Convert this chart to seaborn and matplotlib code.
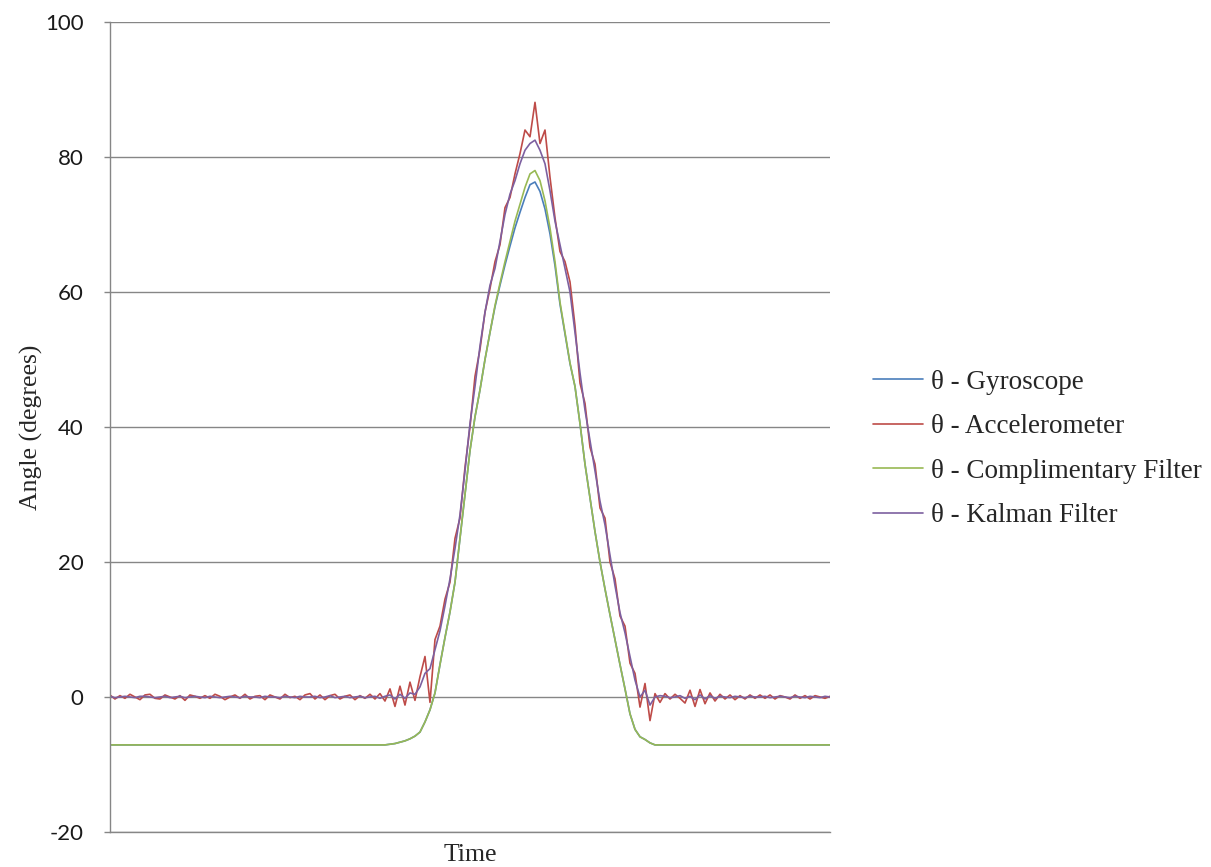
import matplotlib
matplotlib.use("Agg")
import matplotlib.pyplot as plt
import seaborn as sns
import numpy as np
import pandas as pd

# Sample index (one reading every ~5 px of the original plot width)
sample = np.arange(145)

gyroscope = [
    -7.1, -7.1, -7.1, -7.1, -7.1, -7.1, -7.1, -7.1, -7.1, -7.1,
    -7.1, -7.1, -7.1, -7.1, -7.1, -7.1, -7.1, -7.1, -7.1, -7.1,
    -7.1, -7.1, -7.1, -7.1, -7.1, -7.1, -7.1, -7.1, -7.1, -7.1,
    -7.1, -7.1, -7.1, -7.1, -7.1, -7.1, -7.1, -7.1, -7.1, -7.1,
    -7.1, -7.1, -7.1, -7.1, -7.1, -7.1, -7.1, -7.1, -7.1, -7.1,
    -7.1, -7.1, -7.1, -7.1, -7.1, -7.1, -7.0, -6.9, -6.7, -6.5,
    -6.2, -5.8, -5.2, -3.7, -1.9, 0.6, 4.8, 8.8, 12.6, 17.0,
    23.5, 30.0, 36.5, 41.5, 45.5, 50.0, 54.0, 57.8, 61.0, 64.0,
    66.8, 69.5, 71.8, 74.0, 75.9, 76.3, 74.9, 72.3, 68.6, 63.9,
    58.2, 53.8, 49.4, 46.0, 40.5, 34.5, 29.5, 24.5, 20.0, 16.0,
    12.2, 8.5, 4.8, 1.2, -2.5, -4.8, -5.9, -6.3, -6.8, -7.1,
    -7.1, -7.1, -7.1, -7.1, -7.1, -7.1, -7.1, -7.1, -7.1, -7.1,
    -7.1, -7.1, -7.1, -7.1, -7.1, -7.1, -7.1, -7.1, -7.1, -7.1,
    -7.1, -7.1, -7.1, -7.1, -7.1, -7.1, -7.1, -7.1, -7.1, -7.1,
    -7.1, -7.1, -7.1, -7.1, -7.1,
]

accelerometer = [
    0.3, -0.3, 0.2, -0.2, 0.4, 0.0, -0.4, 0.3, 0.4, -0.2,
    -0.3, 0.3, 0.0, -0.3, 0.2, -0.5, 0.3, 0.1, -0.2, 0.2,
    -0.2, 0.4, 0.1, -0.4, 0.0, 0.3, -0.2, 0.4, -0.3, 0.1,
    0.2, -0.4, 0.3, 0.0, -0.3, 0.4, -0.1, 0.1, -0.4, 0.3,
    0.5, -0.3, 0.3, -0.4, 0.2, 0.4, -0.3, 0.1, 0.3, -0.4,
    0.2, -0.2, 0.4, -0.3, 0.5, -0.6, 1.2, -1.4, 1.6, -1.2,
    2.2, -0.5, 3.0, 6.0, -0.8, 8.5, 10.5, 14.5, 17.0, 23.5,
    26.5, 34.0, 40.0, 47.5, 51.5, 57.0, 60.5, 64.5, 67.0, 72.5,
    74.0, 77.5, 80.5, 84.0, 83.0, 88.1, 82.0, 84.0, 77.0, 71.0,
    66.0, 64.5, 61.5, 55.0, 46.5, 43.5, 37.0, 34.5, 28.0, 26.5,
    20.0, 17.5, 12.0, 10.5, 5.0, 3.5, -1.5, 2.0, -3.5, 0.5,
    -0.8, 0.5, -0.3, 0.4, -0.2, -0.9, 1.0, -1.4, 1.1, -1.0,
    0.6, -0.6, 0.4, -0.3, 0.3, -0.4, 0.2, -0.3, 0.3, -0.2,
    0.3, -0.2, 0.3, -0.3, 0.2, 0.0, -0.3, 0.3, -0.2, 0.2,
    -0.3, 0.2, 0.0, -0.2, 0.1,
]

complementary = [
    -7.1, -7.1, -7.1, -7.1, -7.1, -7.1, -7.1, -7.1, -7.1, -7.1,
    -7.1, -7.1, -7.1, -7.1, -7.1, -7.1, -7.1, -7.1, -7.1, -7.1,
    -7.1, -7.1, -7.1, -7.1, -7.1, -7.1, -7.1, -7.1, -7.1, -7.1,
    -7.1, -7.1, -7.1, -7.1, -7.1, -7.1, -7.1, -7.1, -7.1, -7.1,
    -7.1, -7.1, -7.1, -7.1, -7.1, -7.1, -7.1, -7.1, -7.1, -7.1,
    -7.1, -7.1, -7.1, -7.1, -7.1, -7.1, -7.0, -6.9, -6.7, -6.5,
    -6.2, -5.8, -5.2, -3.7, -1.9, 0.6, 4.8, 8.8, 12.6, 17.0,
    23.5, 30.0, 36.5, 41.5, 45.5, 50.0, 54.0, 58.0, 61.3, 64.5,
    67.5, 70.5, 73.0, 75.5, 77.5, 78.0, 76.5, 73.5, 69.5, 64.5,
    58.5, 54.0, 49.5, 46.0, 40.5, 34.5, 29.5, 24.5, 20.0, 16.0,
    12.2, 8.5, 4.8, 1.2, -2.5, -4.8, -5.9, -6.3, -6.8, -7.1,
    -7.1, -7.1, -7.1, -7.1, -7.1, -7.1, -7.1, -7.1, -7.1, -7.1,
    -7.1, -7.1, -7.1, -7.1, -7.1, -7.1, -7.1, -7.1, -7.1, -7.1,
    -7.1, -7.1, -7.1, -7.1, -7.1, -7.1, -7.1, -7.1, -7.1, -7.1,
    -7.1, -7.1, -7.1, -7.1, -7.1,
]

kalman = [
    0.1, -0.1, 0.0, 0.1, 0.0, -0.1, 0.1, 0.1, 0.0, -0.1,
    0.0, 0.1, -0.1, 0.0, 0.1, -0.1, 0.0, 0.1, 0.0, -0.1,
    0.1, 0.0, -0.1, 0.0, 0.1, 0.0, -0.1, 0.1, 0.0, 0.0,
    -0.1, 0.1, 0.0, 0.0, -0.1, 0.1, 0.0, -0.1, 0.1, 0.0,
    0.0, 0.1, -0.1, 0.0, 0.2, -0.1, 0.0, 0.1, -0.1, 0.0,
    0.1, -0.1, 0.0, 0.1, -0.2, 0.1, 0.3, -0.3, 0.4, -0.2,
    0.6, 0.4, 1.5, 3.5, 4.2, 7.0, 9.8, 13.5, 17.5, 22.0,
    27.0, 33.5, 40.5, 46.0, 52.0, 57.0, 61.0, 63.5, 67.5, 71.5,
    74.5, 76.5, 79.0, 81.0, 82.0, 82.5, 81.0, 79.0, 75.0, 70.5,
    67.0, 63.5, 60.0, 54.0, 48.0, 42.5, 38.0, 33.5, 29.0, 25.5,
    21.0, 16.5, 12.5, 9.5, 6.0, 2.5, 0.0, 1.0, -1.2, 0.0,
    0.2, 0.1, -0.1, 0.0, 0.2, -0.2, 0.1, -0.4, 0.3, -0.3,
    0.2, -0.2, 0.1, 0.0, -0.1, 0.1, 0.0, -0.1, 0.1, 0.0,
    0.0, 0.1, -0.1, 0.0, 0.1, 0.0, -0.1, 0.1, 0.0, -0.1,
    0.1, 0.0, -0.1, 0.1, 0.0,
]

series_names = ["θ - Gyroscope", "θ - Accelerometer",
                "θ - Complimentary Filter", "θ - Kalman Filter"]
series_colors = ["#4A7EBB", "#BE4B48", "#98B954", "#7D60A0"]
y_ticks = [-20, 0, 20, 40, 60, 80, 100]

# Long-form table for seaborn
frames = []
for name, values in zip(series_names, [gyroscope, accelerometer, complementary, kalman]):
    frames.append(pd.DataFrame({"Time": sample, "Angle": values, "Series": name}))
df = pd.concat(frames, ignore_index=True)

sns.set_style("white")
plt.rcParams["font.family"] = ["Liberation Serif", "DejaVu Serif"]
plt.rcParams["axes.unicode_minus"] = False

fig = plt.figure(figsize=(12.11, 8.67), dpi=100)
ax = fig.add_axes([0.0908, 0.0404, 0.5946, 0.9342])

sns.lineplot(data=df, x="Time", y="Angle", hue="Series", hue_order=series_names,
             palette=series_colors, linewidth=1.2, ax=ax)

grid_color = "#868686"
ax.set_xlim(0, 144)
ax.set_ylim(-20, 100)
ax.set_yticks(y_ticks)
ax.set_xticks([])
ax.yaxis.grid(True, color=grid_color, linewidth=1.0)
ax.set_axisbelow(True)

for side in ["top", "right"]:
    ax.spines[side].set_visible(False)
for side in ["left", "bottom"]:
    ax.spines[side].set_color(grid_color)
    ax.spines[side].set_linewidth(1.0)

ax.tick_params(axis="y", direction="out", length=4, width=1.0, color=grid_color,
               pad=15, labelsize=16, labelcolor="#1a1a1a", labelfontfamily="Lato", left=True)

ax.set_xlabel("Time", fontsize=18.5, labelpad=9)
ax.set_ylabel("Angle (degrees)", fontsize=18.5)
ax.yaxis.set_label_coords(-0.093, 0.5)

handles, labels = ax.get_legend_handles_labels()
ax.legend(handles, labels, loc="center left", bbox_to_anchor=(1.0597, 0.4728),
          frameon=False, borderpad=0, borderaxespad=0, handlelength=1.85,
          handletextpad=0.3, labelspacing=0.72,
          prop={"family": "Liberation Serif", "size": 19.5})

plt.savefig("out.png", dpi=100)
plt.close()
